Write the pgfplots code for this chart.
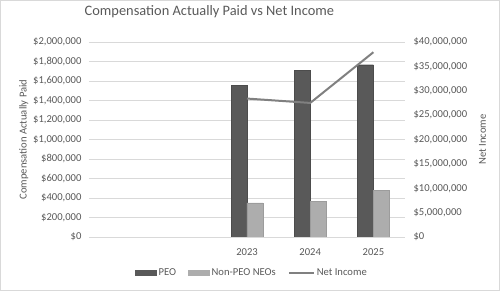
\documentclass[border=0pt]{standalone}
\usepackage{fontspec}
\setmainfont{Carlito}
\usepackage{pgfplots}
\pgfplotsset{compat=1.18}
\definecolor{peo}{HTML}{595959}
\definecolor{neo}{HTML}{ADADAD}
\definecolor{linecol}{HTML}{808080}
\definecolor{gridcol}{HTML}{D9D9D9}
\definecolor{txt}{HTML}{595959}
\definecolor{bordercol}{HTML}{D9D9D9}
\begin{document}
\begin{tikzpicture}
\path[use as bounding box] (0pt,0pt) rectangle (500pt,291pt);
\draw[bordercol, line width=1pt] (0.5pt,0.5pt) rectangle (499.5pt,290.5pt);
\begin{axis}[
  at={(89pt,54pt)}, anchor=south west, scale only axis,
  width=316pt, height=195pt,
  xmin=-0.5, xmax=4.5, ymin=0, ymax=2000000,
  xtick={2,3,4}, xticklabels={2023,2024,2025},
  ytick={0,200000,400000,600000,800000,1000000,1200000,1400000,1600000,1800000,2000000},
  yticklabels={{\$0},{\$200,000},{\$400,000},{\$600,000},{\$800,000},{\$1,000,000},{\$1,200,000},{\$1,400,000},{\$1,600,000},{\$1,800,000},{\$2,000,000}},
  scaled y ticks=false,
  axis line style={draw=none},
  major tick length=0pt,
  ymajorgrids, grid style={gridcol, line width=0.8pt},
  tick label style={font=\fontsize{10.6}{12}\selectfont, text=txt},
  xticklabel style={yshift=-8pt},
  yticklabel style={xshift=-4pt},
  ylabel={Compensation Actually Paid},
  ylabel style={font=\fontsize{10.6}{12}\selectfont, text=txt, yshift=-2pt},
  title={Compensation Actually Paid vs Net Income},
  title style={font=\fontsize{14.4}{17}\selectfont, text=txt, at={(0.381,1.123)}, anchor=center},
]
\addplot[ybar, bar width=0.25, bar shift=-0.125, fill=peo, draw=peo!85!black] coordinates {(2,1555000) (3,1706000) (4,1767000)};
\addplot[ybar, bar width=0.25, bar shift=0.125, fill=neo, draw=neo!90!black] coordinates {(2,349000) (3,365000) (4,482000)};
\end{axis}
\begin{axis}[
  at={(89pt,54pt)}, anchor=south west, scale only axis,
  width=316pt, height=195pt,
  xmin=-0.5, xmax=4.5, ymin=0, ymax=40000000,
  axis x line=none,
  axis y line*=right,
  ytick={0,5000000,10000000,15000000,20000000,25000000,30000000,35000000,40000000},
  yticklabels={{\$0},{\$5,000,000},{\$10,000,000},{\$15,000,000},{\$20,000,000},{\$25,000,000},{\$30,000,000},{\$35,000,000},{\$40,000,000}},
  scaled y ticks=false,
  axis line style={draw=none},
  major tick length=0pt,
  tick label style={font=\fontsize{10.6}{12}\selectfont, text=txt},
  yticklabel style={xshift=5pt},
  ylabel={Net Income},
  ylabel style={font=\fontsize{10.6}{12}\selectfont, text=txt, yshift=-5pt},
  legend columns=3,
  legend style={at={(0.516,-0.185)}, anchor=center, draw=none, fill=none,
    font=\fontsize{10.6}{12}\selectfont, text=txt,
    /tikz/every even column/.append style={column sep=10pt},
    nodes={inner sep=2pt}},
]
\addlegendimage{legend image code/.code={\fill[peo] (0pt,-2.5pt) rectangle (21pt,2.5pt);}}
\addlegendentry{PEO}
\addlegendimage{legend image code/.code={\fill[neo] (0pt,-2.5pt) rectangle (21pt,2.5pt);}}
\addlegendentry{Non-PEO NEOs}
\addplot[linecol, line width=2pt, mark=none, legend image code/.code={\draw[linecol, line width=2pt] (0pt,0pt) -- (25pt,0pt);}] coordinates {(2,28400000) (3,27500000) (4,37900000)};
\addlegendentry{Net Income}
\end{axis}
\end{tikzpicture}
\end{document}
